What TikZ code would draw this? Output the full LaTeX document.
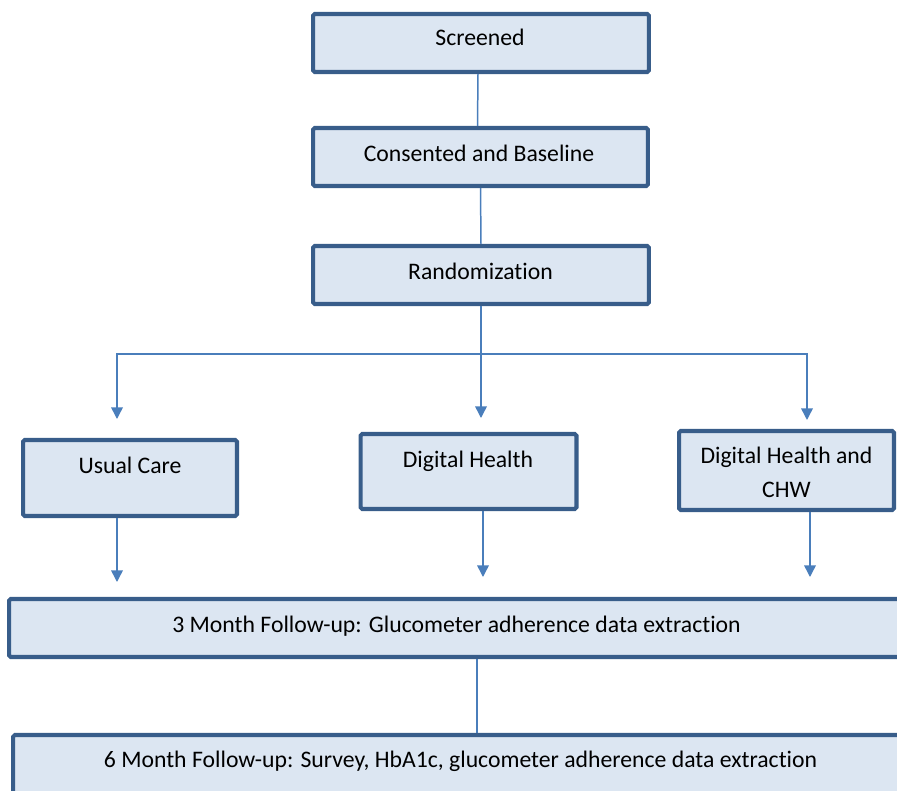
\documentclass[tikz,border=0pt]{standalone}
\usepackage{fontspec}
\setmainfont{Carlito}[Ligatures={NoCommon}]
\usepackage{tikz}
\usetikzlibrary{arrows.meta,calc}
\definecolor{boxline}{HTML}{385D8A}
\definecolor{boxfill}{HTML}{DCE6F2}
\definecolor{linkblue}{HTML}{4A7EBB}

\begin{document}
\begin{tikzpicture}[x=0.02cm, y=-0.02cm,
  stage/.style={draw=boxline, fill=boxfill, line width=2.3pt, rounded corners=1pt, inner sep=0pt},
  lbl/.style={font=\fontsize{13.5}{19.3}\selectfont, anchor=base, inner sep=0pt},
  link/.style={draw=linkblue, line width=0.85pt},
  arr/.style={link, -{Triangle[length=6.6pt,width=6.6pt]}}]

% ===== page 897 x 791 px, one px = 0.02cm =====
\useasboundingbox (0,0) rectangle (897,791);
\clip (0,0) rectangle (897,791);

% ============ top column ============
\node[stage, minimum width=6.72cm, minimum height=1.16cm] (scr) at (481,43) {};
\node[lbl] (scrtxt) at (480,46) {Screened};
\node[stage, minimum width=6.70cm, minimum height=1.16cm] (cons) at (480.5,157) {};
\node[lbl] (constxt) at (479,161) {Consented and Baseline};
\node[stage, minimum width=6.72cm, minimum height=1.16cm] (rand) at (481,275) {};
\node[lbl] (randtxt) at (480.5,279) {Randomization};

% ============ three arms ============
\node[stage, minimum width=4.28cm, minimum height=1.52cm] (usual) at (130,478) {};
\node[lbl] (usualtxt) at (130,473) {Usual Care};
\node[stage, minimum width=4.32cm, minimum height=1.50cm] (dh) at (468.5,471.5) {};
\node[lbl] (dhtxt) at (468,467) {Digital Health};
\node[stage, minimum width=4.30cm, minimum height=1.58cm] (dhc) at (786.5,470.5) {};
\node[lbl, align=center] (dhctxt) at (786.5,497) {Digital Health and\\CHW};

% ============ follow-up ============
\node[stage, minimum width=18.02cm, minimum height=1.16cm] (m3) at (459.5,628) {};
\node[lbl] (m3txt) at (456.5,632) {3 Month Follow-up: Glucometer adherence data extraction};
\node[stage, minimum width=17.92cm, minimum height=1.56cm] (m6) at (461,774) {};
\node[lbl] (m6txt) at (460.5,767) {6 Month Follow-up: Survey, HbA1c, glucometer adherence data extraction};

% free ends of the connectors
\coordinate (split) at (481,354);
\coordinate (usualin) at (117,419);
\coordinate (dhin) at (481,418);
\coordinate (dhcin) at (807,420);
\coordinate (usualout) at (117,582);
\coordinate (dhout) at (483,577);
\coordinate (dhcout) at (810,577);
\coordinate (m3out) at (477,700);

% ============ connectors ============
\draw[link] ([xshift=-0.06cm]scr.south) -- ([xshift=-0.06cm]cons.north);
\draw[link] (cons.south) -- (rand.north);
\draw[link] (rand.south) -- (split);
\draw[arr] (split) -| (usualin);
\draw[arr] (split) -- (dhin);
\draw[arr] (split) -| (dhcin);
\draw[arr] (usualout |- usual.south) -- (usualout);
\draw[arr] (dhout |- dh.south) -- (dhout);
\draw[arr] (dhcout |- dhc.south) -- (dhcout);
\draw[link] (m3out |- m3.south) -- (m3out |- m6.north);

\end{tikzpicture}
\end{document}
